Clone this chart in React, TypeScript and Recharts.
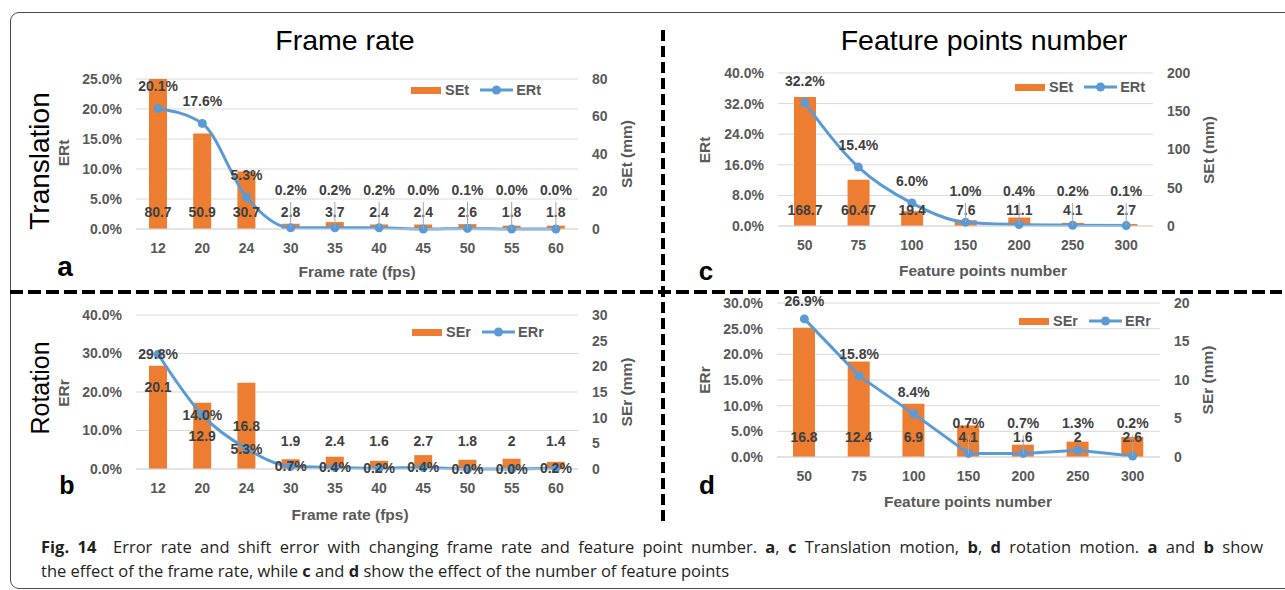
import React from 'react';
import { ComposedChart, Bar, Line, XAxis, YAxis, CartesianGrid, LabelList, Legend } from 'recharts';

// ---------- data ----------
const frameRates = ['12', '20', '24', '30', '35', '40', '45', '50', '55', '60'];
const setFrame = [80.7, 50.9, 30.7, 2.8, 3.7, 2.4, 2.4, 2.6, 1.8, 1.8];
const ertFrame = [20.1, 17.6, 5.3, 0.2, 0.2, 0.2, 0.0, 0.1, 0.0, 0.0];
const serFrame = [20.1, 12.9, 16.8, 1.9, 2.4, 1.6, 2.7, 1.8, 2, 1.4];
const errFrame = [29.8, 14.0, 5.3, 0.7, 0.4, 0.2, 0.4, 0.0, 0.0, 0.2];

const featurePoints = ['50', '75', '100', '150', '200', '250', '300'];
const setFeature = [168.7, 60.47, 19.4, 7.6, 11.1, 4.1, 2.7];
const ertFeature = [32.2, 15.4, 6.0, 1.0, 0.4, 0.2, 0.1];
const serFeature = [16.8, 12.4, 6.9, 4.1, 1.6, 2, 2.6];
const errFeature = [26.9, 15.8, 8.4, 0.7, 0.7, 1.3, 0.2];

const ticksA_left = [0, 5, 10, 15, 20, 25];
const ticksA_right = [0, 20, 40, 60, 80];
const ticksB_left = [0, 10, 20, 30, 40];
const ticksB_right = [0, 5, 10, 15, 20, 25, 30];
const ticksC_left = [0, 8, 16, 24, 32, 40];
const ticksC_right = [0, 50, 100, 150, 200];
const ticksD_left = [0, 5, 10, 15, 20, 25, 30];
const ticksD_right = [0, 5, 10, 15, 20];

// ---------- style ----------
const ORANGE = '#ED7D31';
const BLUE = '#5B9BD5';
const GRID = '#D9D9D9';
const TICK = '#595959';
const LABEL = '#404040';
const FONT = '"Liberation Sans", Arial, sans-serif';

const PAD_L = 80;
const PAD_R = 80;
const PAD_T = 20;
const PAD_B = 60;

type Rect = { x: number; y: number; w: number; h: number };

type PanelProps = {
  rect: Rect;
  categories: string[];
  bars: number[];
  line: number[];
  barName: string;
  lineName: string;
  leftTicks: number[];
  rightTicks: number[];
  barSize: number;
  curve: 'monotone' | 'linear';
  lineLabelCenter: boolean;
  lineClamp: number;
  barLabelOffset: number;
  barLabelAdaptive: boolean;
  legend: { x: number; y: number };
  overflow?: boolean;
};

function Panel(p: PanelProps) {
  const { rect } = p;
  const width = rect.w + PAD_L + PAD_R;
  const height = rect.h + PAD_T + PAD_B;
  const left = rect.x - PAD_L;
  const top = rect.y - PAD_T;
  const bottom = PAD_T + rect.h;
  const data = p.categories.map((c, i) => ({ cat: c, se: p.bars[i], er: p.line[i] }));
  const tickStyle = { fill: TICK, fontSize: 14, fontWeight: 700, fontFamily: FONT };
  const leftMax = p.leftTicks[p.leftTicks.length - 1];
  const rightMax = p.rightTicks[p.rightTicks.length - 1];

  const lineLabel = (props: any) => {
    const vb = props.viewBox || {};
    const x = vb.x ?? props.x;
    const y = vb.y ?? props.y;
    const v = Number(props.value);
    let ly = y;
    if (!p.lineLabelCenter) ly = Math.max(Math.min(y - 22, bottom - p.lineClamp), PAD_T - 2);
    const lead = y - ly > 28;
    return (
      <g>
        {lead && <line x1={x} x2={x} y1={ly + 12} y2={y} stroke="#A6A6A6" strokeWidth={1} />}
        <text x={x} y={ly} textAnchor="middle" dominantBaseline="central" fill={LABEL}
          fontSize={14} fontWeight={700} fontFamily={FONT}>{v.toFixed(1)}%</text>
      </g>
    );
  };

  const barLabel = (props: any) => {
    const vb = props.viewBox && props.viewBox.width !== undefined ? props.viewBox : props;
    const x = vb.x, y = vb.y, w = vb.width, h = vb.height;
    const base = y + h;
    let ly = base - p.barLabelOffset;
    if (p.barLabelAdaptive) {
      if (h > 95) ly = y + 21;
      else if (h > 60) ly = y + h / 2;
    }
    return (
      <text x={x + w / 2} y={ly} textAnchor="middle" dominantBaseline="central" fill={LABEL}
        fontSize={14} fontWeight={700} fontFamily={FONT}>{String(props.value)}</text>
    );
  };

  const legendContent = () => (
    <div style={{ display: 'flex', alignItems: 'center', fontFamily: FONT, fontWeight: 700, fontSize: 14.5, color: TICK, whiteSpace: 'nowrap', height: 20 }}>
      <span style={{ width: 30, height: 7, background: ORANGE, display: 'inline-block' }} />
      <span style={{ marginLeft: 4 }}>{p.barName}</span>
      <svg width={33} height={10} style={{ marginLeft: 11 }}>
        <line x1={0} x2={33} y1={5} y2={5} stroke={BLUE} strokeWidth={3} />
        <circle cx={16.5} cy={5} r={4.5} fill={BLUE} />
      </svg>
      <span style={{ marginLeft: 3 }}>{p.lineName}</span>
    </div>
  );

  return (
    <div style={{ position: 'absolute', left, top }}>
      <ComposedChart width={width} height={height} data={data}
        margin={{ left: PAD_L - 60, right: PAD_R - 60, top: PAD_T, bottom: PAD_B - 30 }}>
        <CartesianGrid vertical={false} stroke={GRID} yAxisId="left" />
        <XAxis dataKey="cat" tickLine={false} axisLine={{ stroke: GRID }} tick={tickStyle}
          tickMargin={14} tickSize={0} height={30} interval={0} />
        <YAxis yAxisId="left" orientation="left" width={60} domain={[0, leftMax]} ticks={p.leftTicks}
          tickFormatter={(v: number) => `${Number(v).toFixed(1)}%`} axisLine={false} tickLine={false}
          tickSize={0} tickMargin={14} tick={tickStyle} interval={0} />
        <YAxis yAxisId="right" orientation="right" width={60} domain={[0, rightMax]} ticks={p.rightTicks}
          allowDataOverflow={!!p.overflow} axisLine={false} tickLine={false}
          tickSize={0} tickMargin={14} tick={{ ...tickStyle, textAnchor: 'start' }} interval={0} />
        <Legend content={legendContent} layout="horizontal" align="center" verticalAlign="middle"
          wrapperStyle={{ left: p.legend.x - left, top: p.legend.y - top - 10, width: 'auto', height: 20 }} />
        <Bar yAxisId="right" dataKey="se" name={p.barName} fill={ORANGE} barSize={p.barSize} isAnimationActive={false}>
          <LabelList dataKey="se" content={barLabel} />
        </Bar>
        <Line yAxisId="left" dataKey="er" name={p.lineName} type={p.curve} stroke={BLUE} strokeWidth={3}
          dot={{ r: 4.5, fill: BLUE, stroke: BLUE, strokeWidth: 0 }} activeDot={false} isAnimationActive={false}>
          <LabelList dataKey="er" content={lineLabel} />
        </Line>
      </ComposedChart>
    </div>
  );
}

function Txt(props: { x: number; y: number; size: number; bold?: boolean; color?: string; rotate?: boolean; children: React.ReactNode }) {
  return (
    <div style={{
      position: 'absolute', left: props.x, top: props.y,
      transform: `translate(-50%, -50%)${props.rotate ? ' rotate(-90deg)' : ''}`,
      fontSize: props.size, fontWeight: props.bold ? 700 : 400, color: props.color ?? '#000',
      fontFamily: FONT, whiteSpace: 'nowrap', lineHeight: 1,
    }}>{props.children}</div>
  );
}

const captionStyle: React.CSSProperties = {
  position: 'absolute', left: 41, fontFamily: '"Open Sans", sans-serif', fontSize: 16.5,
  lineHeight: '24px', color: '#231F20', whiteSpace: 'nowrap',
};

export default function App() {
  return (
    <div style={{ position: 'absolute', left: 0, top: 0, width: 1285, height: 590, background: '#fff', overflow: 'hidden', fontFamily: FONT }}>
      <div style={{ position: 'absolute', left: 10, top: 12, width: 1300, height: 577, border: '1.5px solid #4a4a4a', borderRadius: 9, boxSizing: 'border-box' }} />
      <svg style={{ position: 'absolute', left: 0, top: 0 }} width={1285} height={590}>
        <line x1={663} x2={663} y1={30} y2={526} stroke="#000" strokeWidth={4} strokeDasharray="11 5" />
        <line x1={10} x2={1282} y1={292} y2={292} stroke="#000" strokeWidth={4} strokeDasharray="13 5" />
      </svg>

      <Panel rect={{ x: 136, y: 79, w: 442, h: 150 }} categories={frameRates} bars={setFrame} line={ertFrame}
        barName="SEt" lineName="ERt" leftTicks={ticksA_left} rightTicks={ticksA_right} barSize={18}
        curve="monotone" lineLabelCenter={false} lineClamp={39} barLabelOffset={17} barLabelAdaptive={false}
        legend={{ x: 411, y: 90 }} overflow />
      <Panel rect={{ x: 136, y: 315, w: 442, h: 154 }} categories={frameRates} bars={serFrame} line={errFrame}
        barName="SEr" lineName="ERr" leftTicks={ticksB_left} rightTicks={ticksB_right} barSize={18}
        curve="monotone" lineLabelCenter={true} lineClamp={0} barLabelOffset={28} barLabelAdaptive={true}
        legend={{ x: 412, y: 332 }} />
      <Panel rect={{ x: 778, y: 73, w: 375, h: 153 }} categories={featurePoints} bars={setFeature} line={ertFeature}
        barName="SEt" lineName="ERt" leftTicks={ticksC_left} rightTicks={ticksC_right} barSize={22}
        curve="monotone" lineLabelCenter={false} lineClamp={35} barLabelOffset={16} barLabelAdaptive={false}
        legend={{ x: 1015, y: 87 }} />
      <Panel rect={{ x: 777, y: 303, w: 383, h: 154 }} categories={featurePoints} bars={serFeature} line={errFeature}
        barName="SEr" lineName="ERr" leftTicks={ticksD_left} rightTicks={ticksD_right} barSize={22}
        curve="linear" lineLabelCenter={false} lineClamp={34} barLabelOffset={20} barLabelAdaptive={false}
        legend={{ x: 1019, y: 321 }} />

      {/* titles */}
      <Txt x={345} y={40} size={28.5}>Frame rate</Txt>
      <Txt x={984} y={40} size={28.5}>Feature points number</Txt>
      <Txt x={40} y={161} size={28} rotate>Translation</Txt>
      <Txt x={40} y={388} size={25} rotate>Rotation</Txt>

      {/* panel letters */}
      <Txt x={65} y={267} size={28} bold>a</Txt>
      <Txt x={67} y={485} size={25} bold>b</Txt>
      <Txt x={706} y={271} size={26} bold>c</Txt>
      <Txt x={707} y={485} size={26} bold>d</Txt>

      {/* axis titles */}
      <Txt x={357} y={272} size={15.5} bold color={TICK}>Frame rate (fps)</Txt>
      <Txt x={350} y={515} size={15.5} bold color={TICK}>Frame rate (fps)</Txt>
      <Txt x={983} y={271} size={15.5} bold color={TICK}>Feature points number</Txt>
      <Txt x={968} y={502} size={15.5} bold color={TICK}>Feature points number</Txt>

      <Txt x={64} y={153} size={15.5} bold color={TICK} rotate>ERt</Txt>
      <Txt x={627} y={154} size={15.5} bold color={TICK} rotate>SEt (mm)</Txt>
      <Txt x={64} y={393} size={15.5} bold color={TICK} rotate>ERr</Txt>
      <Txt x={627} y={392} size={15.5} bold color={TICK} rotate>SEr (mm)</Txt>
      <Txt x={705} y={150} size={15.5} bold color={TICK} rotate>ERt</Txt>
      <Txt x={1209} y={150} size={15.5} bold color={TICK} rotate>SEt (mm)</Txt>
      <Txt x={705} y={380} size={15.5} bold color={TICK} rotate>ERr</Txt>
      <Txt x={1208} y={380} size={15.5} bold color={TICK} rotate>SEr (mm)</Txt>

      {/* caption */}
      <div style={{ ...captionStyle, top: 535, width: 1222, textAlign: 'justify', textAlignLast: 'justify', whiteSpace: 'normal' }}>
        <b>Fig. 14</b>&nbsp; Error rate and shift error with changing frame rate and feature point number. <b>a</b>, <b>c</b> Translation motion, <b>b</b>, <b>d</b> rotation motion. <b>a</b> and <b>b</b> show
      </div>
      <div style={{ ...captionStyle, top: 559 }}>
        the effect of the frame rate, while <b>c</b> and <b>d</b> show the effect of the number of feature points
      </div>
    </div>
  );
}
